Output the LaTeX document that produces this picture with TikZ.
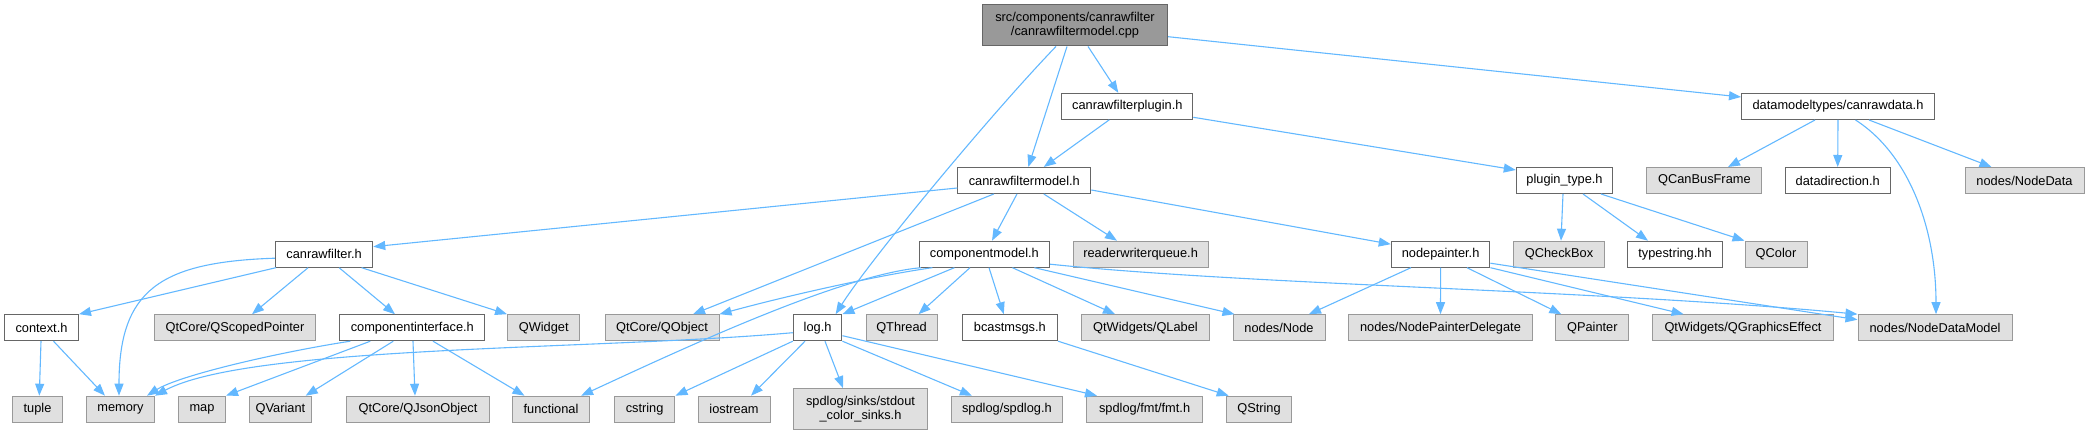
\documentclass[tikz,border=0pt]{standalone}
\usepackage{fontspec}
\setmainfont{Liberation Sans}
\usetikzlibrary{arrows.meta,calc}
\definecolor{edgec}{HTML}{63B8FF}
\definecolor{wborder}{HTML}{666666}
\definecolor{gborder}{HTML}{999999}
\definecolor{gfill}{HTML}{E0E0E0}
\definecolor{mfill}{HTML}{999999}
\begin{document}
\begin{tikzpicture}[x=1pt,y=-1pt,
  every node/.style={font=\fontsize{12.8}{14}\selectfont, inner sep=0pt, minimum height=26pt, rectangle, line width=1pt},
  wbox/.style={draw=wborder, fill=white},
  gbox/.style={draw=gborder, fill=gfill},
  mbox/.style={draw=wborder, fill=mfill, minimum height=41.3pt, align=center},
  dep/.style={draw=edgec, line width=1.1pt, -{Triangle[length=12pt,width=9pt]}}]
\useasboundingbox (0,0) rectangle (2089,435);
% row 1
\node[mbox, minimum width=185pt] (main) at (1075,25.3) {src/components/canrawfilter\\/canrawfiltermodel.cpp};
% row 2
\node[wbox, minimum width=131pt] (plugin) at (1127.3,106.3) {canrawfilterplugin.h};
\node[wbox, minimum width=193pt] (data) at (1838,106.5) {datamodeltypes/canrawdata.h};
% row 3
\node[wbox, minimum width=133pt] (model) at (1024.3,180.5) {canrawfiltermodel.h};
\node[wbox, minimum width=96.4pt] (ptype) at (1564.5,180.5) {plugin\_type.h};
\node[gbox, minimum width=115pt] (qcan) at (1704.4,180.5) {QCanBusFrame};
\node[wbox, minimum width=105.4pt] (ddir) at (1837.7,180.5) {datadirection.h};
\node[gbox, minimum width=119pt] (ndata) at (2024.5,180.5) {nodes/NodeData};
% row 4
\node[wbox, minimum width=97.3pt] (cfilt) at (324.1,254.2) {canrawfilter.h};
\node[wbox, minimum width=130.4pt] (cmod) at (984.4,254.2) {componentmodel.h};
\node[gbox, minimum width=135pt] (rwq) at (1140.6,254.2) {readerwriterqueue.h};
\node[wbox, minimum width=98.7pt] (npaint) at (1440.6,254.2) {nodepainter.h};
\node[gbox, minimum width=91pt] (qcheck) at (1559,254.2) {QCheckBox};
\node[wbox, minimum width=94.2pt] (tstr) at (1675,254.2) {typestring.hh};
\node[gbox, minimum width=62pt] (qcolor) at (1776,254.2) {QColor};
% row 5
\node[wbox, minimum width=74pt] (ctx) at (41.5,327.7) {context.h};
\node[gbox, minimum width=161pt] (qscoped) at (235,327.7) {QtCore/QScopedPointer};
\node[wbox, minimum width=145pt] (cinter) at (412.3,327.7) {componentinterface.h};
\node[gbox, minimum width=72.3pt] (qwidget) at (543.7,327.7) {QWidget};
\node[gbox, minimum width=114pt] (qobject) at (662,327.7) {QtCore/QObject};
\node[wbox, minimum width=48.7pt] (log) at (817.6,327.7) {log.h};
\node[gbox, minimum width=71pt] (qthread) at (901.5,327.7) {QThread};
\node[wbox, minimum width=95.5pt] (bcast) at (1009.8,327.7) {bcastmsgs.h};
\node[gbox, minimum width=128.6pt] (qlabel) at (1145.5,327.7) {QtWidgets/QLabel};
\node[gbox, minimum width=92pt] (nnode) at (1279,327.7) {nodes/Node};
\node[gbox, minimum width=183.7pt] (npd) at (1440.5,327.7) {nodes/NodePainterDelegate};
\node[gbox, minimum width=72.7pt] (qpainter) at (1592.3,327.7) {QPainter};
\node[gbox, minimum width=181.7pt] (qge) at (1743,327.7) {QtWidgets/QGraphicsEffect};
\node[gbox, minimum width=154pt] (ndm) at (1935,327.7) {nodes/NodeDataModel};
% row 6
\node[gbox, minimum width=50pt] (tuple) at (37.5,409.2) {tuple};
\node[gbox, minimum width=68pt] (memory) at (120.5,409.2) {memory};
\node[gbox, minimum width=47pt] (map) at (202,409.2) {map};
\node[gbox, minimum width=61.6pt] (qvariant) at (280.4,409.2) {QVariant};
\node[gbox, minimum width=143.3pt] (qjson) at (418,409.2) {QtCore/QJsonObject};
\node[gbox, minimum width=77.2pt] (functional) at (551,409.2) {functional};
\node[gbox, minimum width=60.7pt] (cstring) at (644.6,409.2) {cstring};
\node[gbox, minimum width=72pt] (iostream) at (734,409.2) {iostream};
\node[gbox, minimum width=134.4pt, minimum height=40.7pt, align=center] (sinks) at (860.5,409) {spdlog/sinks/stdout\\\_color\_sinks.h};
\node[gbox, minimum width=111pt] (spdlog) at (1006.9,409.2) {spdlog/spdlog.h};
\node[gbox, minimum width=116pt] (fmt) at (1144.6,409.2) {spdlog/fmt/fmt.h};
\node[gbox, minimum width=65.6pt] (qstring) at (1259,409.2) {QString};
% edges from main
\draw[dep] ($(main.south)+(-19,0)$) .. controls (990,115) and (870,260) .. ($(log.north)+(18,0)$);
\draw[dep] ($(main.south)+(-8,0)$) -- ($(model.north)+(4,0)$);
\draw[dep] ($(main.south)+(13,0)$) -- ($(plugin.north)+(-9,0)$);
\draw[dep] ($(main.east)+(0,11.4)$) -- ($(data.west)+(0,-9.5)$);
% plugin
\draw[dep] ($(plugin.south)+(-18,0)$) -- ($(model.north)+(19.5,0)$);
\draw[dep] ($(plugin.east)+(0,11)$) -- ($(ptype.west)+(0,-10.5)$);
% data
\draw[dep] ($(data.south)+(-23,0)$) -- ($(qcan.north)+(23.6,0)$);
\draw[dep] (data.south) -- (ddir.north);
\draw[dep] ($(data.south)+(31,0)$) -- ($(ndata.north)+(-33,0)$);
\draw[dep] ($(data.south)+(17.5,0)$) .. controls (1910,155) and (1936,230) .. ($(ndm.north)+(1,0)$);
% model
\draw[dep] ($(model.west)+(0,7.5)$) -- ($(cfilt.east)+(0,-7.5)$);
\draw[dep] ($(model.south)+(-30.5,0)$) -- ($(qobject.north)+(31,0)$);
\draw[dep] ($(model.south)+(-7.3,0)$) -- ($(cmod.north)+(7.6,0)$);
\draw[dep] ($(model.south)+(19.5,0)$) -- ($(rwq.north)+(-23.6,0)$);
\draw[dep] ($(model.east)+(0,9.5)$) -- ($(npaint.west)+(0,-10)$);
% plugin_type
\draw[dep] ($(ptype.south)+(-1.5,0)$) -- ($(qcheck.north)+(2,0)$);
\draw[dep] ($(ptype.south)+(18.5,0)$) -- ($(tstr.north)+(-27,0)$);
\draw[dep] ($(ptype.south)+(36.5,0)$) -- (qcolor.north west);
% canrawfilter.h
\draw[dep] ($(cfilt.south west)+(1,0)$) -- (ctx.north east);
\draw[dep] ($(cfilt.west)+(0,4)$) .. controls (160,262) and (119,290) .. ($(memory.north)+(-1.5,0)$);
\draw[dep] ($(cfilt.south)+(-16,0)$) -- ($(qscoped.north)+(17,0)$);
\draw[dep] ($(cfilt.south)+(15,0)$) -- ($(cinter.north)+(-17.3,0)$);
\draw[dep] ($(cfilt.south)+(37.5,0)$) -- (qwidget.north west);
% componentmodel.h
\draw[dep] ($(cmod.south)+(-52,0)$) .. controls (880,275) and (790,295) .. (qobject.north east);
\draw[dep] ($(cmod.south)+(-63.4,0)$) .. controls (840,275) and (680,350) .. ($(functional.north east)+(-9,0)$);
\draw[dep] ($(cmod.south)+(-30,0)$) -- (log.north east);
\draw[dep] ($(cmod.south)+(-14.4,0)$) -- ($(qthread.north)+(17,0)$);
\draw[dep] ($(cmod.south)+(4.6,0)$) -- ($(bcast.north)+(-6,0)$);
\draw[dep] ($(cmod.south)+(28,0)$) -- ($(qlabel.north)+(-30.5,0)$);
\draw[dep] ($(cmod.south)+(50,0)$) -- ($(nnode.north west)+(2,0)$);
\draw[dep] ($(cmod.east)+(0,10)$) .. controls (1250,285) and (1600,290) .. (ndm.north west);
% nodepainter.h
\draw[dep] ($(npaint.south)+(-29.6,0)$) -- ($(nnode.north)+(30,0)$);
\draw[dep] (npaint.south) -- (npd.north);
\draw[dep] ($(npaint.south)+(26.4,0)$) -- ($(qpainter.north)+(-31,0)$);
\draw[dep] (npaint.south east) -- ($(qge.north)+(-59.4,0)$);
\draw[dep] ($(npaint.east)+(0,9)$) -- ($(ndm.west)+(0,-8)$);
% context.h
\draw[dep] ($(ctx.south)+(-0.5,0)$) -- ($(tuple.north)+(1.8,0)$);
\draw[dep] ($(ctx.south)+(12,0)$) -- ($(memory.north)+(-15.5,0)$);
% componentinterface.h
\draw[dep] ($(cinter.south)+(-62,0)$) .. controls (280,352) and (180,375) .. ($(memory.north)+(26.5,0)$);
\draw[dep] ($(cinter.south)+(-42,0)$) -- (map.north east);
\draw[dep] ($(cinter.south)+(-19,0)$) -- ($(qvariant.north east)+(-6,0)$);
\draw[dep] ($(cinter.south)+(0.7,0)$) -- ($(qjson.north)+(-3,0)$);
\draw[dep] ($(cinter.south)+(20.7,0)$) -- ($(functional.north)+(-26.5,0)$);
% log.h
\draw[dep] ($(log.west)+(0,5)$) .. controls (600,350) and (250,345) .. (memory.north east);
\draw[dep] (log.south west) -- (cstring.north east);
\draw[dep] ($(log.south)+(-12.6,0)$) -- ($(iostream.north)+(17,0)$);
\draw[dep] ($(log.south)+(7.4,0)$) -- ($(sinks.north)+(-17.5,0)$);
\draw[dep] (log.south east) -- ($(spdlog.north)+(-35,0)$);
\draw[dep] ($(log.east)+(0,8)$) -- ($(fmt.north)+(-47.6,0)$);
% bcastmsgs.h
\draw[dep] (bcast.south east) -- ($(qstring.north west)+(3,0)$);
\end{tikzpicture}
\end{document}
